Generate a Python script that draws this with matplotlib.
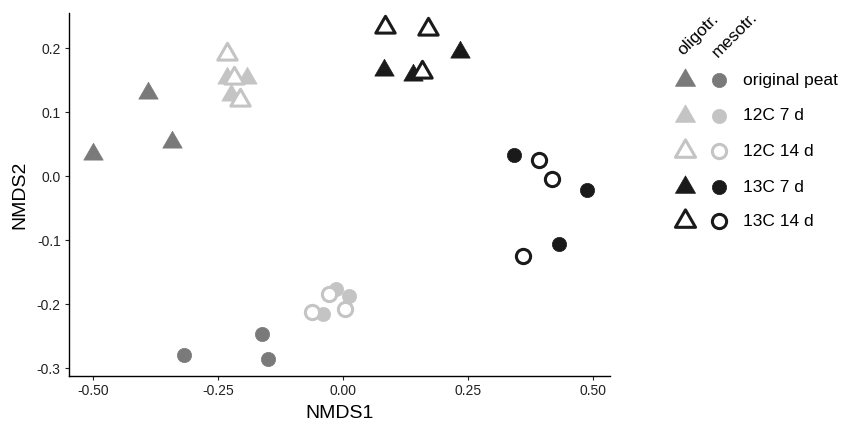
import numpy as np
import matplotlib.pyplot as plt
from matplotlib.path import Path

plt.rcParams['font.family'] = ['Liberation Sans', 'DejaVu Sans']

# NMDS scores, triangles = oligotrophic, circles = mesotrophic
groups = ["original peat", "12C 7 d", "12C 14 d", "13C 7 d", "13C 14 d"]
colors = ["#7a7a7a", "#c4c4c4", "#c4c4c4", "#1a1a1a", "#1a1a1a"]
filled = [True, True, False, True, False]

oligo_x = [[-0.50, -0.39, -0.342],
           [-0.232, -0.192, -0.224],
           [-0.232, -0.218, -0.206],
           [0.082, 0.14, 0.234],
           [0.084, 0.17, 0.158]]
oligo_y = [[0.035, 0.13, 0.053],
           [0.153, 0.153, 0.127],
           [0.19, 0.153, 0.119],
           [0.166, 0.158, 0.193],
           [0.233, 0.23, 0.163]]

meso_x = [[-0.318, -0.162, -0.15],
          [-0.014, 0.012, -0.04],
          [-0.028, -0.062, 0.004],
          [0.342, 0.488, 0.432],
          [0.392, 0.418, 0.36]]
meso_y = [[-0.28, -0.247, -0.286],
          [-0.177, -0.187, -0.215],
          [-0.184, -0.213, -0.208],
          [0.033, -0.022, -0.106],
          [0.025, -0.005, -0.125]]

xticks = [-0.50, -0.25, 0.00, 0.25, 0.50]
yticks = [-0.3, -0.2, -0.1, 0.0, 0.1, 0.2]

tri = Path([(0, 1), (-0.866, -0.5), (0.866, -0.5), (0, 1)],
           [Path.MOVETO, Path.LINETO, Path.LINETO, Path.CLOSEPOLY])


def style(c, f):
    if f:
        return dict(facecolor=c, edgecolor=c, linewidths=0.5)
    return dict(facecolor="white", edgecolor=c, linewidths=2.2)


fig = plt.figure(figsize=(8.45, 4.24), dpi=100)
ax = fig.add_axes([69 / 845, 1 - 376 / 424, (610 - 69) / 845, (376 - 13) / 424])

for i in range(len(groups)):
    st = style(colors[i], filled[i])
    ax.scatter(oligo_x[i], oligo_y[i], marker=tri, s=260, zorder=3, **st)
    ax.scatter(meso_x[i], meso_y[i], marker="o", s=105, zorder=3, **st)

ax.set_xlim(-0.548, 0.534)
ax.set_ylim(-0.3125, 0.2547)
ax.set_xticks(xticks)
ax.set_xticklabels(["-0.50", "-0.25", "0.00", "0.25", "0.50"])
ax.set_yticks(yticks)
ax.set_yticklabels(["-0.3", "-0.2", "-0.1", "0.0", "0.1", "0.2"])
ax.tick_params(labelsize=10, labelcolor="#222222", length=3, width=0.8,
               color="#222222", pad=3)
for s in ["top", "right"]:
    ax.spines[s].set_visible(False)
for s in ["left", "bottom"]:
    ax.spines[s].set_linewidth(1.0)
ax.set_xlabel("NMDS1", fontsize=14, labelpad=5)
ax.set_ylabel("NMDS2", fontsize=14, labelpad=6)

# legend panel
lax = fig.add_axes([660 / 845, 1 - 240 / 424, 180 / 845, 180 / 424])
lax.set_xlim(0, 180)
lax.set_ylim(240, 60)
lax.axis("off")
rows = [80, 116, 151, 187, 221]
for i in range(len(groups)):
    st = style(colors[i], filled[i])
    lax.scatter([685 - 660], [rows[i]], marker=tri, s=280, **st)
    lax.scatter([719 - 660], [rows[i]], marker="o", s=105, **st)
    lax.text(743 - 660, rows[i], groups[i], fontsize=12.5, va="center", ha="left")
fig.text(685 / 845, 1 - 58 / 424, "oligotr.", rotation=45, fontsize=12.5,
         ha="left", va="bottom", rotation_mode="anchor")
fig.text(720 / 845, 1 - 60 / 424, "mesotr.", rotation=45, fontsize=12.5,
         ha="left", va="bottom", rotation_mode="anchor")

fig.savefig("out.png", dpi=100)
